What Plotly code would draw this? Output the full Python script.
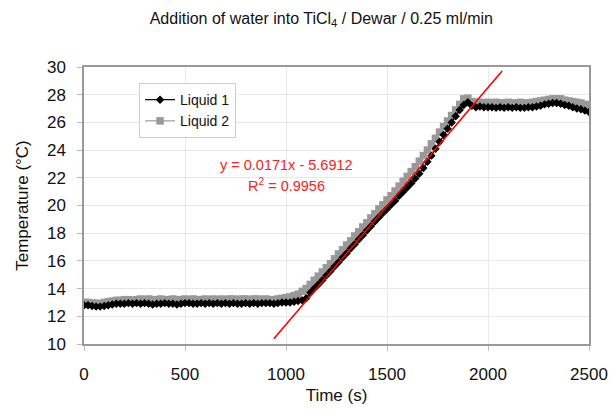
import plotly.graph_objects as go

time_s = list(range(0, 2501, 20))

liquid1 = [
    12.8, 12.8, 12.75, 12.7, 12.7, 12.75, 12.8, 12.85, 12.9, 12.9,          # 0-180
    12.9, 12.95, 12.9, 12.95, 12.9, 12.95, 12.9, 12.85, 12.9, 12.9,         # 200-380
    12.95, 12.9, 12.9, 12.85, 12.9, 12.95, 12.95, 12.9, 12.9, 12.95,        # 400-580
    12.9, 12.95, 12.9, 12.95, 12.9, 12.95, 12.9, 12.95, 12.9, 12.9,         # 600-780
    12.95, 12.9, 12.95, 12.9, 12.95, 12.95, 12.95, 12.9, 12.95, 13.0,       # 800-980
    13.0, 13.0, 13.05, 13.1, 13.15, 13.3, 13.7, 14.0, 14.3, 14.6,           # 1000-1180
    14.95, 15.25, 15.6, 15.9, 16.25, 16.55, 16.9, 17.2, 17.55, 17.85,       # 1200-1380
    18.2, 18.5, 18.85, 19.15, 19.45, 19.75, 20.05, 20.35, 20.7, 21.0,       # 1400-1580
    21.3, 21.6, 21.95, 22.3, 22.7, 23.15, 23.6, 24.1, 24.6, 25.1,           # 1600-1780
    25.55, 26.0, 26.45, 26.9, 27.25, 27.45, 27.2, 27.1, 27.15, 27.1,        # 1800-1980
    27.1, 27.1, 27.05, 27.1, 27.05, 27.1, 27.05, 27.1, 27.05, 27.05,        # 2000-2180
    27.1, 27.1, 27.15, 27.2, 27.3, 27.35, 27.4, 27.4, 27.35, 27.25,         # 2200-2380
    27.2, 27.1, 27.0, 26.95, 26.85, 26.75,                                  # 2400-2500
]

liquid2 = [
    13.0, 13.0, 12.95, 12.95, 12.9, 13.0, 13.05, 13.1, 13.15, 13.15,        # 0-180
    13.2, 13.2, 13.15, 13.2, 13.25, 13.2, 13.25, 13.2, 13.2, 13.25,         # 200-380
    13.2, 13.2, 13.25, 13.2, 13.2, 13.25, 13.2, 13.25, 13.2, 13.2,          # 400-580
    13.25, 13.2, 13.25, 13.2, 13.25, 13.2, 13.25, 13.25, 13.2, 13.25,       # 600-780
    13.25, 13.2, 13.25, 13.25, 13.2, 13.25, 13.2, 13.2, 13.25, 13.3,        # 800-980
    13.35, 13.4, 13.5, 13.6, 13.8, 14.0, 14.3, 14.6, 14.9, 15.2,            # 1000-1180
    15.5, 15.8, 16.15, 16.5, 16.8, 17.15, 17.45, 17.8, 18.1, 18.45,         # 1200-1380
    18.75, 19.1, 19.4, 19.75, 20.05, 20.4, 20.7, 21.05, 21.4, 21.75,        # 1400-1580
    22.1, 22.45, 22.8, 23.2, 23.6, 24.0, 24.45, 24.85, 25.3, 25.7,          # 1600-1780
    26.1, 26.5, 26.9, 27.3, 27.7, 27.75, 27.5, 27.45, 27.45, 27.4,          # 1800-1980
    27.45, 27.4, 27.45, 27.4, 27.4, 27.45, 27.4, 27.4, 27.45, 27.4,         # 2000-2180
    27.4, 27.45, 27.5, 27.55, 27.6, 27.65, 27.7, 27.7, 27.7, 27.6,          # 2200-2380
    27.55, 27.5, 27.45, 27.4, 27.3, 27.25,                                  # 2400-2500
]

trend_slope = 0.0171
trend_intercept = -5.6912
trend_x = [940, 2070]
trend_y = [trend_slope * x + trend_intercept for x in trend_x]

x_ticks = [0, 500, 1000, 1500, 2000, 2500]
y_ticks = [10, 12, 14, 16, 18, 20, 22, 24, 26, 28, 30]

FONT = "Liberation Sans, Arial, sans-serif"

fig = go.Figure()

fig.add_trace(go.Scatter(
    x=time_s, y=liquid2, name="Liquid 2", mode="lines+markers",
    line=dict(color="#999999", width=1.2),
    marker=dict(symbol="square", size=7.5, color="#999999"),
    legendrank=2,
))
fig.add_trace(go.Scatter(
    x=time_s, y=liquid1, name="Liquid 1", mode="lines+markers",
    line=dict(color="#000000", width=1.2),
    marker=dict(symbol="diamond", size=6.5, color="#000000"),
    legendrank=1,
))
fig.add_trace(go.Scatter(
    x=trend_x, y=trend_y, mode="lines", showlegend=False,
    line=dict(color="#ff0000", width=1.6),
))

fig.add_annotation(x=1004, y=22.9, text="y = 0.0171x - 5.6912", showarrow=False,
                   font=dict(family=FONT, size=14.5, color="#ff2020"))
fig.add_annotation(x=1004, y=21.45, text="R<sup>2</sup> = 0.9956", showarrow=False,
                   font=dict(family=FONT, size=14.5, color="#ff2020"))

axis_common = dict(
    showgrid=True, gridcolor="#e8e8e8", gridwidth=1,
    showline=True, linecolor="#999999", linewidth=1.5, mirror=True,
    ticks="outside", ticklen=5, tickcolor="#bbbbbb",
    tickfont=dict(family=FONT, size=17, color="#111111"),
    zeroline=False, automargin=False,
)

fig.update_layout(
    width=612, height=409,
    paper_bgcolor="white", plot_bgcolor="white",
    margin=dict(l=84, r=23, t=67, b=65),
    font=dict(family=FONT, color="#111111"),
    title=dict(text="Addition of water into TiCl<sub>4</sub> / Dewar / 0.25 ml/min",
               x=0.525, xanchor="center", y=0.955, yanchor="middle", yref="container",
               font=dict(family=FONT, size=16, color="#111111")),
    xaxis=dict(range=[0, 2500], tickvals=x_ticks, ticklabelstandoff=9,
               title=dict(text="Time (s)", font=dict(family=FONT, size=17), standoff=6),
               **axis_common),
    yaxis=dict(range=[10, 30], tickvals=y_ticks, ticklabelstandoff=8,
               title=dict(text="Temperature (°C)", font=dict(family=FONT, size=17), standoff=14),
               **axis_common),
    legend=dict(x=0.109, y=0.942, xanchor="left", yanchor="top",
                bgcolor="white", bordercolor="#cccccc", borderwidth=1,
                font=dict(family=FONT, size=14, color="#111111"),
                tracegroupgap=0, itemwidth=30),
    showlegend=True,
)

fig.write_html("out.html", config={"displayModeBar": False},
               post_script="document.body.style.margin='0';")
